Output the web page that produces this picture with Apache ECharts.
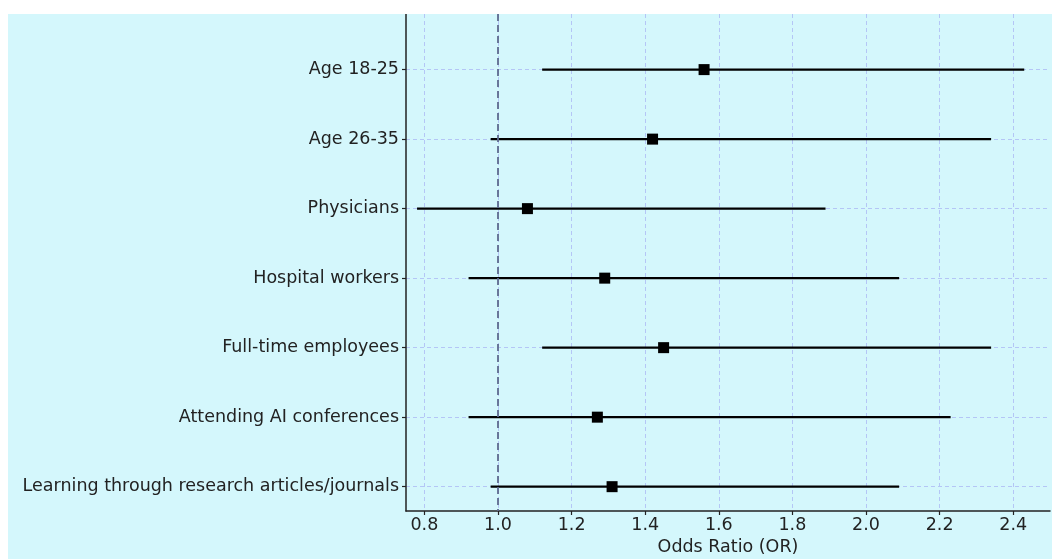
<!DOCTYPE html>
<html>
<head>
<meta charset="utf-8">
<script src="https://cdn.jsdelivr.net/npm/echarts@6/dist/echarts.min.js"></script>
<style>
  html, body { margin: 0; padding: 0; background: #ffffff; }
  #chart { position: absolute; left: 8px; top: 14px; width: 1044px; height: 545px; background: #d4f7fc; }
</style>
</head>
<body>
<div id="chart"></div>
<script>
// rows top to bottom
const categories = [
  'Age 18-25',
  'Age 26-35',
  'Physicians',
  'Hospital workers',
  'Full-time employees',
  'Attending AI conferences',
  'Learning through research articles/journals'
];
const oddsRatio = [1.56, 1.42, 1.08, 1.29, 1.45, 1.27, 1.31];
const ciLower = [1.12, 0.98, 0.78, 0.92, 1.12, 0.92, 0.98];
const ciUpper = [2.43, 2.34, 1.89, 2.09, 2.34, 2.23, 2.09];
const xTicks = [0.8, 1.0, 1.2, 1.4, 1.6, 1.8, 2.0, 2.2, 2.4];
const rowTicks = [0, 1, 2, 3, 4, 5, 6];
const refValue = 1.0;

const chart = echarts.init(document.getElementById('chart'), null, { renderer: 'canvas' });

const font = 'DejaVu Sans';
const textColor = '#222222';
const gridColor = '#b4c6f6';

chart.setOption({
  animation: false,
  grid: { left: 398, right: 2, top: 0, bottom: 48, outerBoundsMode: 'none' },
  xAxis: {
    type: 'value',
    min: 0.75,
    max: 2.5,
    name: 'Odds Ratio (OR)',
    nameLocation: 'middle',
    nameGap: 25,
    nameTextStyle: { color: textColor, fontSize: 17.5, fontFamily: font },
    axisLine: { show: true, onZero: false, lineStyle: { color: '#222', width: 1.5 } },
    axisTick: { show: true, customValues: xTicks, length: 4, inside: false, lineStyle: { color: '#222', width: 1.2 } },
    axisLabel: {
      customValues: xTicks,
      margin: 5,
      color: textColor,
      fontSize: 17.5,
      fontFamily: font,
      formatter: v => Number(v).toFixed(1)
    },
    splitLine: { show: true, lineStyle: { color: gridColor, type: [4, 3], width: 1 } }
  },
  yAxis: {
    type: 'value',
    inverse: true,
    min: -0.8,
    max: 6.35,
    axisLine: { show: true, onZero: false, lineStyle: { color: '#222', width: 1.5 } },
    axisTick: { show: true, customValues: rowTicks, length: 4, lineStyle: { color: '#222', width: 1.2 } },
    axisLabel: {
      customValues: rowTicks,
      margin: 7,
      color: textColor,
      fontSize: 17.5,
      fontFamily: font,
      formatter: v => categories[Math.round(v)] || ''
    },
    splitLine: { show: true, lineStyle: { color: gridColor, type: [4, 3], width: 1 } }
  },
  series: [
    {
      type: 'custom',
      z: 3,
      data: categories.map((c, i) => [ciLower[i], ciUpper[i], i]),
      encode: { x: [0, 1], y: 2 },
      renderItem: (params, api) => {
        const a = api.coord([api.value(0), api.value(2)]);
        const b = api.coord([api.value(1), api.value(2)]);
        return {
          type: 'line',
          shape: { x1: a[0], y1: a[1], x2: b[0], y2: b[1] },
          style: { stroke: '#000', lineWidth: 2.2 }
        };
      }
    },
    {
      type: 'scatter',
      z: 4,
      symbol: 'rect',
      symbolSize: 11,
      itemStyle: { color: '#000', opacity: 1 },
      data: oddsRatio.map((v, i) => [v, i]),
      markLine: {
        silent: true,
        symbol: 'none',
        label: { show: false },
        lineStyle: { color: '#5e6a90', type: [7, 4], width: 1.8 },
        data: [{ xAxis: refValue }]
      }
    }
  ]
});
</script>
</body>
</html>
